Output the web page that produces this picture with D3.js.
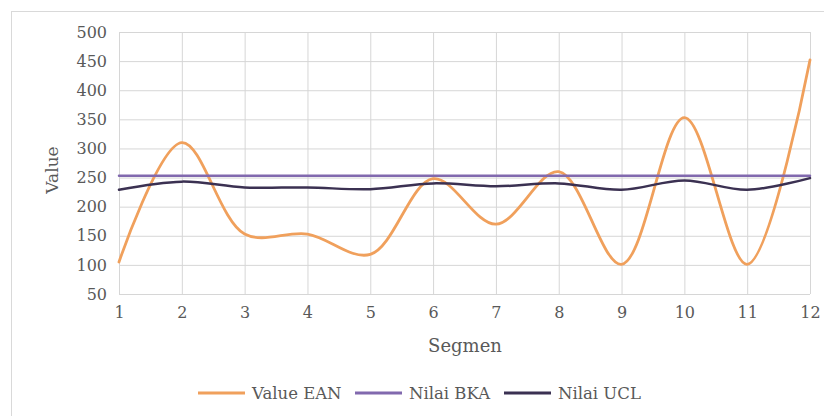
<!DOCTYPE html>
<html>
<head>
<meta charset="utf-8">
<script src="https://cdn.jsdelivr.net/npm/d3@7"></script>
<style>
  html, body { margin: 0; padding: 0; background: #fff; }
  svg { display: block; }
  text { font-family: "DejaVu Serif", serif; fill: #595959; }
</style>
</head>
<body>
<svg id="chart" width="824" height="416"></svg>
<script>
// Segment numbers along the x axis
const segments = [1, 2, 3, 4, 5, 6, 7, 8, 9, 10, 11, 12];
// Measured EAN value per segment
const valueEAN = [105, 310, 153, 153, 118, 248, 170, 260, 101, 353, 101, 452];
// Upper control limit (BKA) – constant
const nilaiBKA = [253, 253, 253, 253, 253, 253, 253, 253, 253, 253, 253, 253];
// UCL per segment
const nilaiUCL = [229, 243, 233, 233, 230, 240, 235, 240, 229, 245, 229, 249];
// Y axis ticks
const yTicks = [50, 100, 150, 200, 250, 300, 350, 400, 450, 500];

const series = [
  { name: "Value EAN", values: valueEAN, color: "#F0A05C", width: 2.8 },
  { name: "Nilai BKA", values: nilaiBKA, color: "#8169AE", width: 2.5 },
  { name: "Nilai UCL", values: nilaiUCL, color: "#3B3152", width: 2.5 }
];

const svg = d3.select("#chart");

// Chart frame
svg.append("rect")
  .attr("x", 11.5).attr("y", 11.5)
  .attr("width", 830).attr("height", 420)
  .attr("fill", "#fff").attr("stroke", "#D9D9D9").attr("stroke-width", 1);

const plot = { left: 119, right: 810, top: 32, bottom: 294 };

const x = d3.scaleLinear().domain([1, 12]).range([plot.left, plot.right]);
const y = d3.scaleLinear().domain([50, 500]).range([plot.bottom, plot.top]);

// Gridlines
const grid = svg.append("g");
grid.selectAll("line.h").data(yTicks).join("line")
  .attr("x1", plot.left).attr("x2", plot.right)
  .attr("y1", d => y(d) + 0.5).attr("y2", d => y(d) + 0.5)
  .attr("stroke", "#D6D6D6").attr("stroke-width", 1);
grid.selectAll("line.v").data(segments).join("line")
  .attr("x1", d => x(d) + 0.5).attr("x2", d => x(d) + 0.5)
  .attr("y1", plot.top).attr("y2", plot.bottom)
  .attr("stroke", "#D6D6D6").attr("stroke-width", 1);

// Y axis labels
const yAxis = svg.append("g")
  .attr("transform", `translate(${plot.left},0)`)
  .call(d3.axisLeft(y).tickValues(yTicks).tickSize(0).tickPadding(12));
yAxis.select(".domain").remove();
yAxis.selectAll("text").style("font-size", "16px").attr("fill", "#595959")
  .style("font-family", "'DejaVu Serif', serif");

// X axis labels
const xAxis = svg.append("g")
  .attr("transform", `translate(0,${plot.bottom})`)
  .call(d3.axisBottom(x).tickValues(segments).tickFormat(d3.format("d")).tickSize(0).tickPadding(13));
xAxis.select(".domain").remove();
xAxis.selectAll("text").style("font-size", "16px").attr("fill", "#595959")
  .style("font-family", "'DejaVu Serif', serif");

// Axis titles
svg.append("text")
  .attr("x", 465).attr("y", 352)
  .attr("text-anchor", "middle")
  .style("font-size", "18px")
  .text("Segmen");
svg.append("text")
  .attr("transform", "translate(58,170) rotate(-90)")
  .attr("text-anchor", "middle")
  .style("font-size", "17px")
  .text("Value");

// Series lines (smoothed)
const line = d3.line()
  .x((d, i) => x(segments[i]))
  .y(d => y(d))
  .curve(d3.curveCatmullRom.alpha(0.5));

svg.append("g").selectAll("path").data(series).join("path")
  .attr("d", d => line(d.values))
  .attr("fill", "none")
  .attr("stroke", d => d.color)
  .attr("stroke-width", d => d.width)
  .attr("stroke-linecap", "round");

// Legend
const legendX = [198, 355, 504];
const legend = svg.append("g");
series.forEach((s, i) => {
  const g = legend.append("g").attr("transform", `translate(${legendX[i]},393)`);
  g.append("line").attr("x1", 0).attr("x2", 47).attr("y1", 0).attr("y2", 0)
    .attr("stroke", s.color).attr("stroke-width", 2.8);
  g.append("text").attr("x", 54).attr("y", 6)
    .style("font-size", "16.5px")
    .text(s.name);
});
</script>
</body>
</html>
